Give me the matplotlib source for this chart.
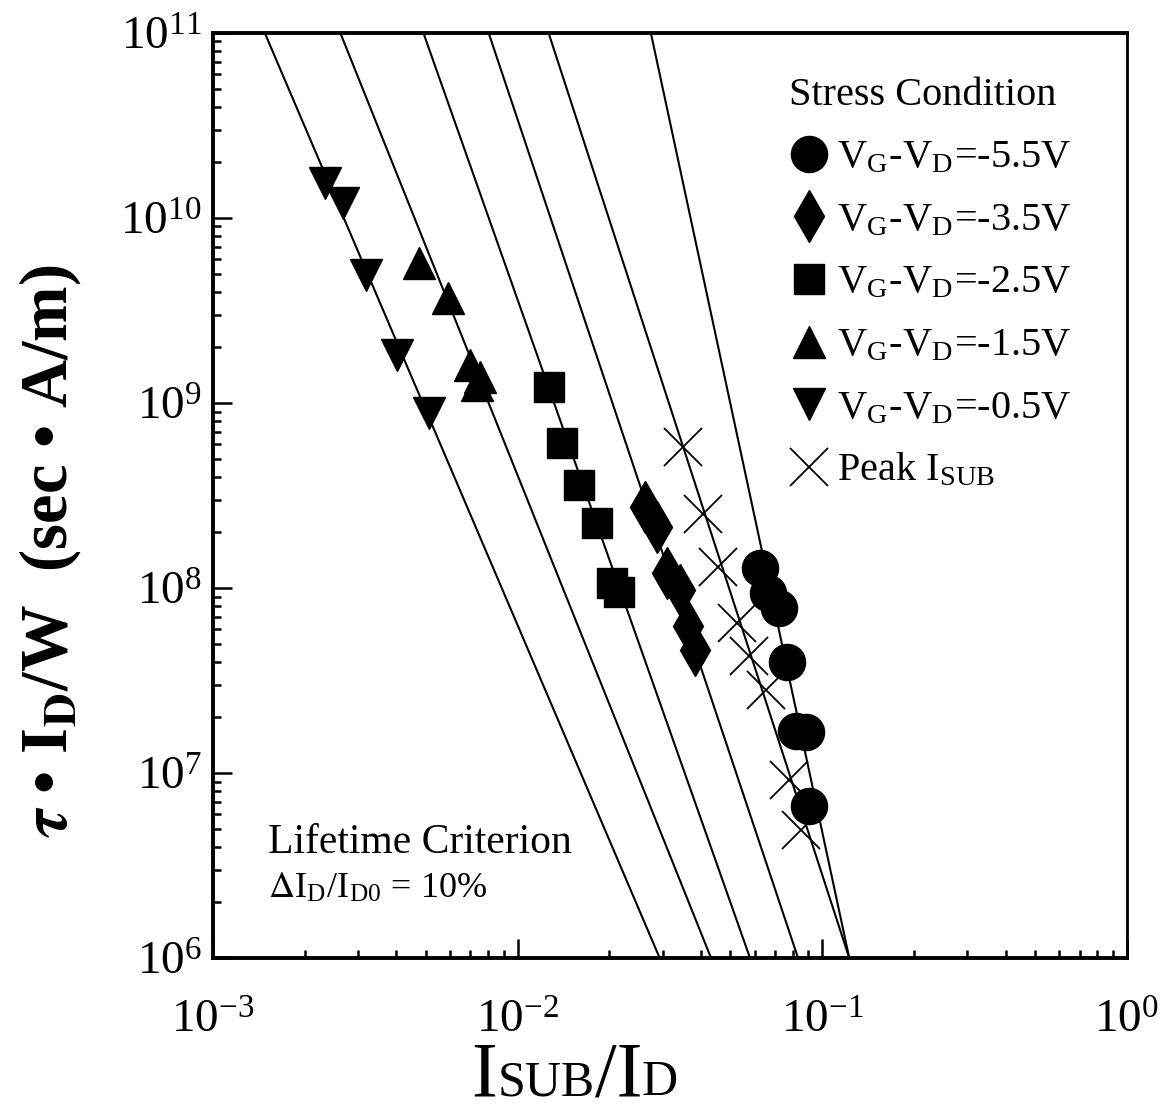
import matplotlib
matplotlib.use('Agg')
import numpy as np
import matplotlib.pyplot as plt
from matplotlib.offsetbox import TextArea, HPacker, AnnotationBbox

plt.rcParams['font.family'] = ['Liberation Serif', 'DejaVu Serif']
plt.rcParams['mathtext.fontset'] = 'stix'
plt.rcParams['axes.unicode_minus'] = False

# measured stress data: Isub/Id and tau*Id/W for each Vg-Vd condition
x_05 = [2.33e-3, 2.68e-3, 3.18e-3, 4.03e-3, 5.14e-3]
y_05 = [1.55e10, 1.20e10, 4.9e9, 1.82e9, 8.8e8]

x_15 = [4.76e-3, 5.93e-3, 7.0e-3, 7.55e-3, 7.38e-3]
y_15 = [5.7e9, 3.7e9, 1.60e9, 1.38e9, 1.25e9]

x_25 = [0.01265, 0.0140, 0.0159, 0.0183, 0.0204, 0.0215]
y_25 = [1.22e9, 6.1e8, 3.6e8, 2.24e8, 1.06e8, 9.5e7]

x_35 = [0.0262, 0.0286, 0.0309, 0.0341, 0.0362, 0.0382]
y_35 = [2.74e8, 2.14e8, 1.20e8, 9.8e7, 6.2e7, 4.6e7]

x_55 = [0.0625, 0.0664, 0.0722, 0.0768, 0.0821, 0.0885, 0.0905]
y_55 = [1.28e8, 9.4e7, 7.8e7, 4.0e7, 1.69e7, 1.67e7, 6.6e6]

x_peak = [0.0349, 0.0406, 0.0455, 0.0525, 0.0575, 0.0655, 0.0778, 0.0853]
y_peak = [5.8e8, 2.5e8, 1.3e8, 6.5e7, 4.3e7, 2.8e7, 9.2e6, 4.9e6]

# fitted lifetime lines: Isub/Id where each line reaches 1e11 and 1e6
fit_x_top = [1.48e-3, 2.62e-3, 4.91e-3, 8.04e-3, 0.01265, 0.0274]
fit_x_bot = [0.0293, 0.0432, 0.058, 0.0834, 0.1228, 0.1228]
fit_y = [1e11, 1e6]

labels = [r'V$_\mathregular{G}$-V$_\mathregular{D}$=-5.5V',
          r'V$_\mathregular{G}$-V$_\mathregular{D}$=-3.5V',
          r'V$_\mathregular{G}$-V$_\mathregular{D}$=-2.5V',
          r'V$_\mathregular{G}$-V$_\mathregular{D}$=-1.5V',
          r'V$_\mathregular{G}$-V$_\mathregular{D}$=-0.5V',
          r'Peak I$_\mathregular{SUB}$']

fig = plt.figure(figsize=(11.7, 11.18), dpi=100)
ax = fig.add_axes([0.182, 0.143, 0.781, 0.8275])

for xt, xb in zip(fit_x_top, fit_x_bot):
    ax.plot([xt, xb], fit_y, color='black', lw=1.5, zorder=1)

h55, = ax.plot(x_55, y_55, 'o', color='black', ms=26, zorder=3)
h35, = ax.plot(x_35, y_35, 'd', color='black', ms=26, zorder=3)
h25, = ax.plot(x_25, y_25, 's', color='black', ms=21, zorder=3)
h15, = ax.plot(x_15, y_15, '^', color='black', ms=23, zorder=3)
h05, = ax.plot(x_05, y_05, 'v', color='black', ms=23, zorder=3)
hpk, = ax.plot(x_peak, y_peak, 'x', color='black', ms=27, mew=1.3, zorder=2)

ax.set_xscale('log')
ax.set_yscale('log')
ax.set_xlim(1e-3, 1e0)
ax.set_ylim(1e6, 1e11)

for side in ['left', 'bottom', 'top']:
    ax.spines[side].set_linewidth(2.8)
ax.spines['right'].set_linewidth(2.0)

ax.tick_params(which='both', direction='in', top=False, right=False, width=1.8)
ax.tick_params(which='major', length=14)
ax.tick_params(which='minor', length=6)
ax.tick_params(axis='x', which='major', labelsize=34, pad=30)
ax.tick_params(axis='y', which='major', labelsize=34, pad=8)

leg = ax.legend([h55, h35, h25, h15, h05, hpk], labels,
                title='Stress Condition', loc='upper left',
                bbox_to_anchor=(0.63, 0.952), frameon=False,
                fontsize=29, title_fontsize=29, alignment='left',
                handlelength=1.0, handletextpad=0.2, labelspacing=0.63,
                borderpad=0, borderaxespad=0, numpoints=1)

ax.text(0.06, 0.125, 'Lifetime Criterion', transform=ax.transAxes,
        fontsize=30, ha='left', va='center')
ax.text(0.06, 0.075, r'$\Delta$I$_\mathregular{D}$/I$_\mathregular{D0}$ = 10%',
        transform=ax.transAxes, fontsize=26, ha='left', va='center')

ax.set_ylabel(r'$\boldsymbol{\tau}$ • I$_\mathbf{D}$/W  (sec • A/m)',
              fontsize=48, fontweight='bold')
ax.yaxis.set_label_coords(-0.142, 0.44)

# x label with small capitals for SUB and D
parts = [('I', 56), ('SUB', 36), ('/I', 56), ('D', 36)]
box = HPacker(children=[TextArea(s, textprops=dict(fontsize=fs))
                        for s, fs in parts],
              align='baseline', pad=0, sep=0)
ab = AnnotationBbox(box, (0.396, -0.128), xycoords='axes fraction',
                    frameon=False, box_alignment=(0.5, 0.5),
                    annotation_clip=False)
ax.add_artist(ab)

fig.savefig('out.png', dpi=100)
